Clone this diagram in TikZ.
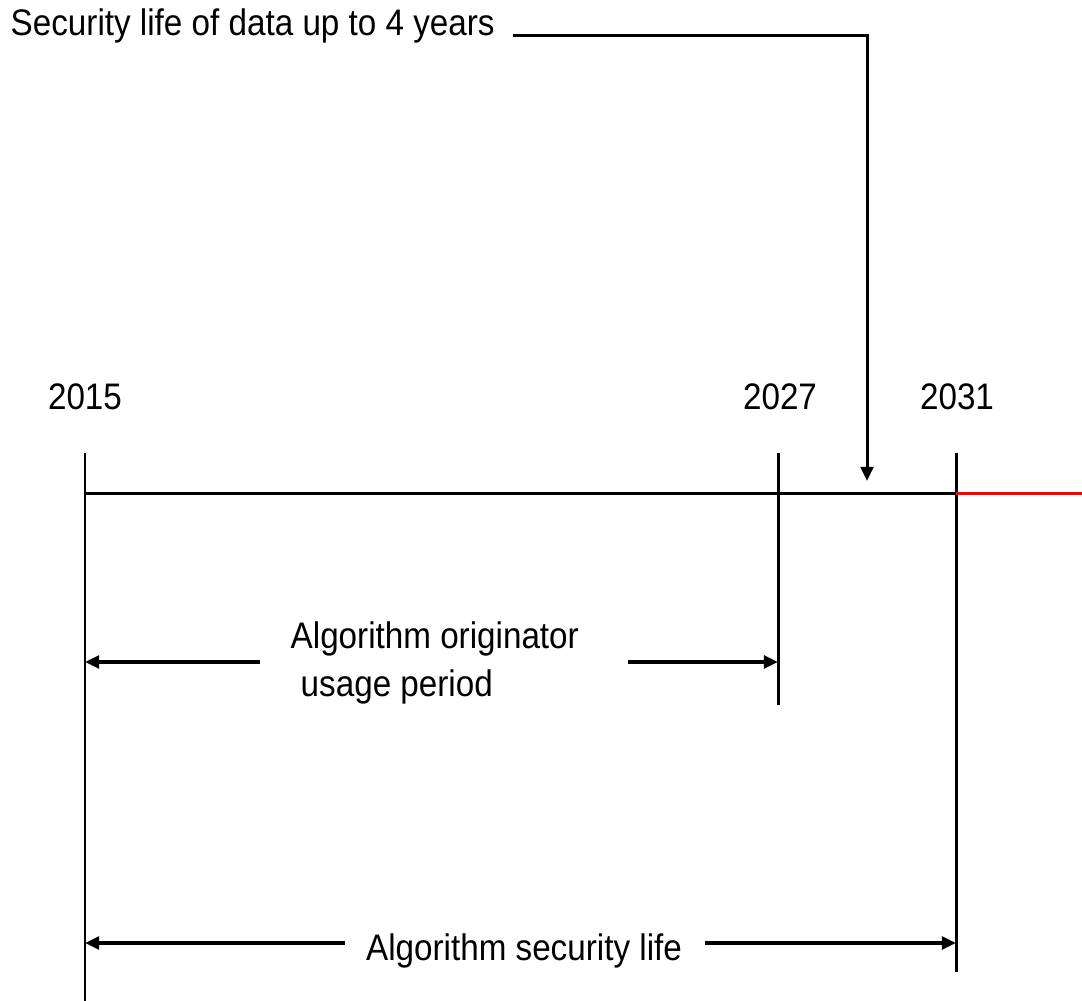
\documentclass[tikz,border=0pt]{standalone}
\usepackage{graphicx}
\usepackage{fontspec}
\setmainfont{Liberation Sans}
\usetikzlibrary{arrows.meta}

\newcommand{\narrowtxt}[1]{\scalebox{0.9}[1]{#1}}

\begin{document}
\begin{tikzpicture}[x=0.01cm,y=-0.01cm,
         axis/.style = {line width=0.85pt},
         span/.style = {line width=1.1pt, -{Triangle[length=4pt,width=3.6pt]}},
         lbl/.style = {inner sep=0pt, font=\fontsize{10.5}{13.7}\selectfont}
]
   \useasboundingbox (0,0) rectangle (1082,1001);

   % years on the time line
   \coordinate (t15) at (85,494);
   \coordinate (t27) at (778,494);
   \coordinate (t31) at (956,494);
   \coordinate (tend) at (1082,494);

   \coordinate (t15top) at (85,453);
   \coordinate (t27top) at (778,453);
   \coordinate (t31top) at (956,453);
   \coordinate (t15bot) at (85,1001);
   \coordinate (t27bot) at (778,705);
   \coordinate (t31bot) at (956,972);

   \node[lbl,anchor=base] (y15) at (85,410) {\narrowtxt{2015}};
   \node[lbl,anchor=base] (y27) at (780,410) {\narrowtxt{2027}};
   \node[lbl,anchor=base] (y31) at (957,410) {\narrowtxt{2031}};

   \draw[axis] (t15top) -- (t15bot);
   \draw[axis] (t27top) -- (t27bot);
   \draw[axis] (t31top) -- (t31bot);
   \draw[axis] (t15) -- (t27) -- (t31);
   \draw[axis,red] (t31) -- (tend);

   % security life of data
   \node[lbl,anchor=base west] (data) at (10,36) {\narrowtxt{Security life of data up to 4 years}};
   \coordinate (d0) at (513,36);
   \coordinate (dtip) at (867,481);
   \draw[axis,-{Triangle[length=4pt,width=3.6pt]}] (d0) -| (dtip);

   % originator usage period
   \node[lbl,anchor=base west,align=left] (orig) at (290,697)
      {\narrowtxt{Algorithm originator}\\\hspace{0.1cm}\narrowtxt{usage period}};
   \coordinate (o1) at (260,662);
   \coordinate (o2) at (85,662);
   \coordinate (o3) at (628,662);
   \coordinate (o4) at (778,662);
   \draw[span] (o1) -- (o2);
   \draw[span] (o3) -- (o4);

   % algorithm security life
   \node[lbl,anchor=base] (alg) at (524,960) {\narrowtxt{Algorithm security life}};
   \coordinate (a1) at (345,943);
   \coordinate (a2) at (85,943);
   \coordinate (a3) at (705,943);
   \coordinate (a4) at (956,943);
   \draw[span] (a1) -- (a2);
   \draw[span] (a3) -- (a4);
\end{tikzpicture}
\end{document}
